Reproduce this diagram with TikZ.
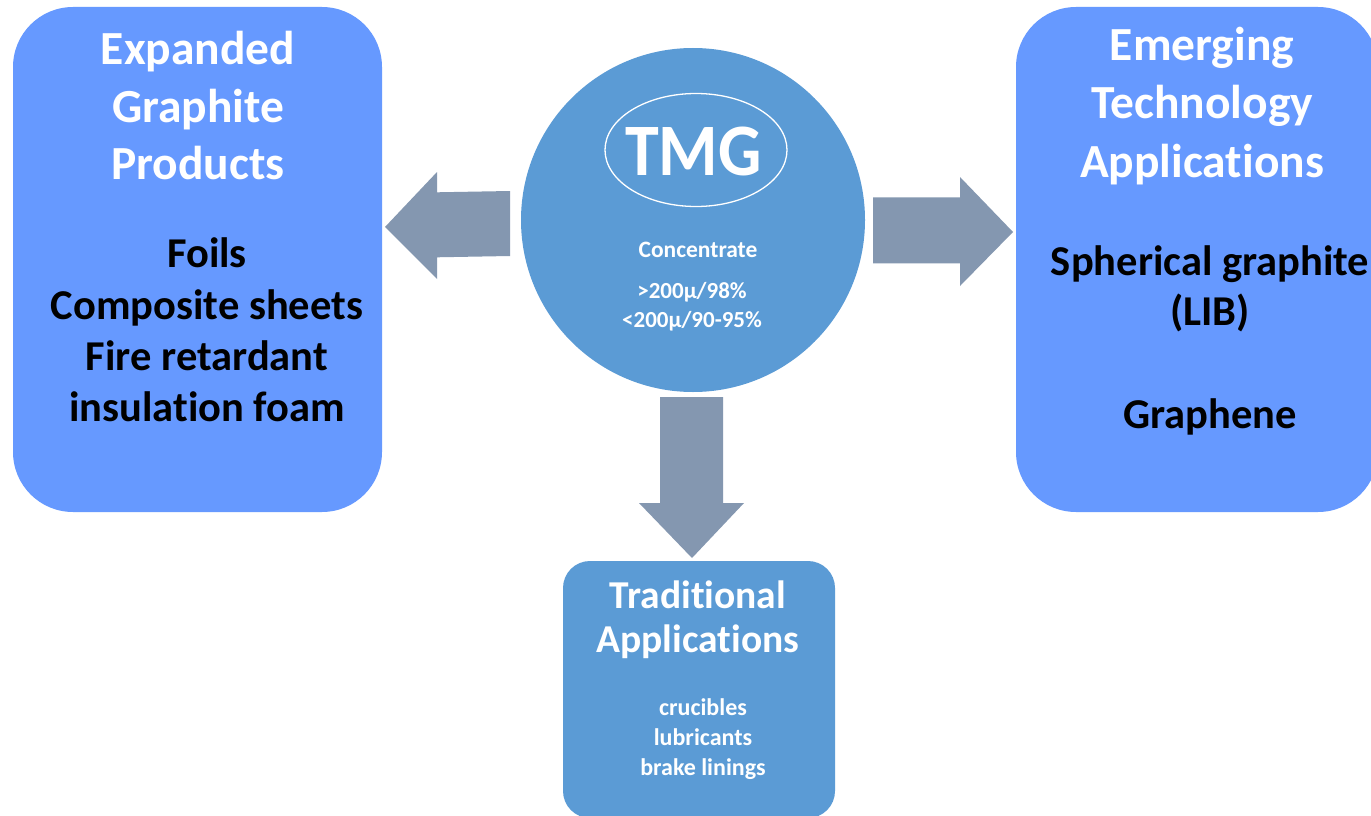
\documentclass[tikz,border=0pt]{standalone}
\usepackage{fontspec}
\setmainfont{Carlito}[Ligatures=NoCommon]
\usetikzlibrary{shapes.geometric}
\definecolor{boxlight}{RGB}{102,153,255}
\definecolor{boxmid}{RGB}{91,155,213}
\definecolor{arrowc}{RGB}{132,151,176}
\tikzset{
  panel/.style={inner sep=0pt, outer sep=0pt, draw=none, rounded corners=60pt, fill=boxlight},
  txt/.style={inner sep=0pt, outer sep=0pt, anchor=base},
  wtxt/.style={txt, text=white},
  btxt/.style={txt, text=black},
  hfont/.style={font=\fontsize{47.5}{55}\selectfont\bfseries},
  bfont/.style={font=\fontsize{42.5}{50}\selectfont\bfseries},
  sfont/.style={font=\fontsize{24}{28}\selectfont\bfseries},
  blockarrow/.style={fill=arrowc, draw=none}
}
\begin{document}
\begin{tikzpicture}[x=1pt,y=-1pt]
\useasboundingbox (0,0) rectangle (1371,816);
\fill[white] (0,0) rectangle (1371,816);

% panels
\node[panel, minimum width=369pt, minimum height=505pt] (exp) at (197.5,259.5) {};
\node[panel, minimum width=362pt, minimum height=505pt] (emg) at (1197,259.5) {};
\node[panel, fill=boxmid, rounded corners=27pt, minimum width=272pt, minimum height=257pt] (trad) at (699,689.5) {};
\node[circle, fill=boxmid, inner sep=0pt, outer sep=0pt, minimum size=344pt] (tmg) at (693,220) {};
\node[ellipse, draw=white, line width=1.3pt, inner sep=0pt, minimum width=182pt, minimum height=113pt] (tmgring) at (696,150) {};

% block arrows
\fill[blockarrow] (510,191) -- (437,192.3) -- (437,172) -- (385,227) -- (437,279) -- (437,257.3) -- (510,256) -- cycle;
\fill[blockarrow] (873,197.3) -- (960,197.3) -- (960,177) -- (1013,232) -- (960,286) -- (960,263.3) -- (873,263.3) -- cycle;
\fill[blockarrow] (660,397) -- (723,397) -- (723,503) -- (744,503) -- (692,558) -- (639,503) -- (660,503) -- cycle;

% TMG circle text
\node[wtxt, font=\fontsize{74}{80}\selectfont\bfseries] (tmgt) at (693.5,175) {\scalebox{0.92}[1]{TMG}};
\node[wtxt, font=\fontsize{23.5}{28}\selectfont\bfseries] (conc) at (698,257) {Concentrate};
\node[wtxt, font=\fontsize{23}{28}\selectfont\bfseries] (c1) at (692,298) {>200μ/98\%};
\node[wtxt, font=\fontsize{23}{28}\selectfont\bfseries] (c2) at (692,327) {<200μ/90-95\%};

% left panel
\node[wtxt, hfont] (e1) at (198,65) {Expanded};
\node[wtxt, hfont] (e2) at (198,122) {Graphite};
\node[wtxt, hfont] (e3) at (198,179) {Products};
\node[btxt, bfont] (f1) at (207,267) {Foils};
\node[btxt, bfont] (f2) at (207,319) {Composite sheets};
\node[btxt, bfont] (f3) at (207,370) {Fire retardant};
\node[btxt, bfont] (f4) at (207,421) {insulation foam};

% right panel
\node[wtxt, hfont] (r1) at (1202,60) {Emerging};
\node[wtxt, hfont] (r2) at (1202,118) {Technology};
\node[wtxt, hfont] (r3) at (1202,177) {Applications};
\node[btxt, bfont] (s1) at (1210,275) {Spherical graphite};
\node[btxt, bfont] (s2) at (1210,325) {(LIB)};
\node[btxt, bfont] (s3) at (1210,428) {Graphene};

% bottom panel
\node[wtxt, font=\fontsize{39.5}{46}\selectfont\bfseries] (t1) at (698,608) {Traditional};
\node[wtxt, font=\fontsize{39.5}{46}\selectfont\bfseries] (t2) at (698,652) {Applications};
\node[wtxt, sfont] (u1) at (703,715) {crucibles};
\node[wtxt, sfont] (u2) at (703,745) {lubricants};
\node[wtxt, sfont] (u3) at (703,775) {brake linings};
\end{tikzpicture}
\end{document}
